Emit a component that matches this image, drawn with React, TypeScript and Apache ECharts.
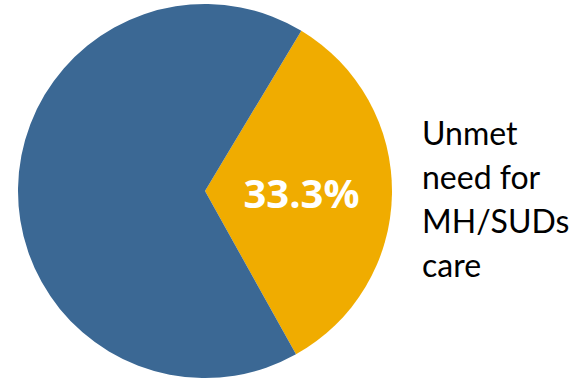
import React, { useEffect, useRef } from "react";
import * as echarts from "echarts";

const categories = ["Unmet need for MH/SUDs care", "Other"];
const values = [33.3, 66.7];
const colors = ["#F0AC00", "#3B6894"];
const sideLabelLines = ["Unmet", "need for", "MH/SUDs", "care"];

export default function App() {
  const ref = useRef<HTMLDivElement>(null);
  useEffect(() => {
    if (!ref.current) return;
    const chart = echarts.init(ref.current, undefined, { renderer: "svg" });
    chart.setOption({
      animation: false,
      backgroundColor: "#ffffff",
      graphic: [
        {
          type: "text",
          left: 422,
          top: 110,
          style: {
            text: sideLabelLines.join("\n"),
            font: "32px Lato",
            lineHeight: 44,
            fill: "#000000",
          },
        },
      ],
      series: [
        {
          type: "pie",
          center: [205, 191],
          radius: 187,
          startAngle: 59,
          clockwise: true,
          silent: true,
          data: categories.map((name, i) => ({
            name,
            value: values[i],
            itemStyle: { color: colors[i] },
            label:
              i === 0
                ? {
                    show: true,
                    position: "inside",
                    formatter: (p: any) => p.value.toFixed(1) + "%",
                    color: "#ffffff",
                    fontSize: 40,
                    fontWeight: "bold",
                    fontFamily: "'Open Sans'",
                  }
                : { show: false },
          })),
          labelLine: { show: false },
        },
      ],
    });
    return () => chart.dispose();
  }, []);
  return (
    <div style={{ position: "fixed", left: 0, top: 0 }}>
      <div ref={ref} style={{ width: 586, height: 379 }} />
    </div>
  );
}
